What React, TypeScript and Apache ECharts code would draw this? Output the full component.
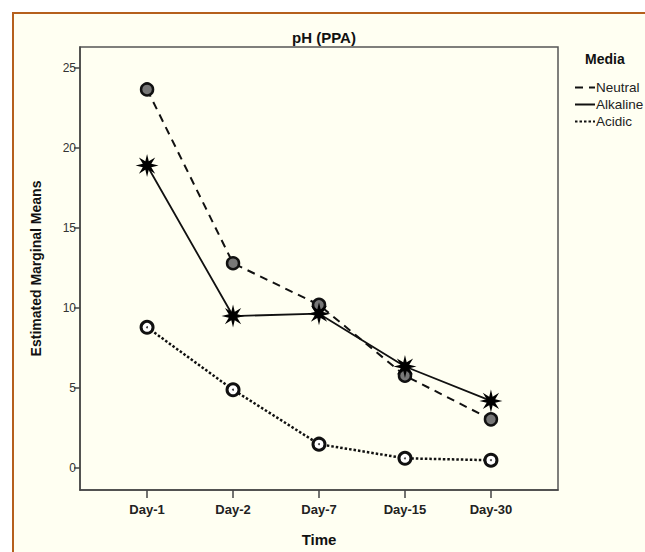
import React, { useEffect, useRef } from "react";
import * as echarts from "echarts";

const categories = ["Day-1", "Day-2", "Day-7", "Day-15", "Day-30"];
const neutral = [23.65, 12.8, 10.2, 5.78, 3.05];
const alkaline = [18.9, 9.5, 9.65, 6.35, 4.2];
const acidic = [8.8, 4.9, 1.5, 0.62, 0.5];
const yTicks = [0, 5, 10, 15, 20, 25];

const STAR =
  "path://M10 0 L11.5 6.3 L17.07 2.93 L13.7 8.5 L20 10 L13.7 11.5 L17.07 17.07 L11.5 13.7 L10 20 L8.5 13.7 L2.93 17.07 L6.3 11.5 L0 10 L6.3 8.5 L2.93 2.93 L8.5 6.3 Z";

const toPts = (arr: number[]) => arr.map((v, i) => [i, v]);
const FONT = "Liberation Sans, Arial, sans-serif";

export default function App() {
  const ref = useRef<HTMLDivElement>(null);
  useEffect(() => {
    if (!ref.current) return;
    const chart = echarts.init(ref.current, undefined, { renderer: "svg" });
    chart.setOption({
      animation: false,
      backgroundColor: "#ffffff",
      textStyle: { fontFamily: FONT },
      title: {
        text: "pH (PPA)",
        left: 319,
        textAlign: "center",
        top: 25,
        textStyle: { fontSize: 15, fontWeight: "bold", color: "#111" },
      },
      graphic: [
        {
          type: "rect",
          z: -10,
          silent: true,
          shape: { x: 13, y: 13, width: 700, height: 600 },
          style: { fill: "#fffff2", stroke: "#b5601c", lineWidth: 2 },
        },
        {
          type: "text",
          left: 585,
          top: 52,
          style: {
            text: "Media",
            fontSize: 14,
            fontWeight: "bold",
            fill: "#111",
            fontFamily: FONT,
          },
        },
      ],
      legend: {
        left: 569,
        top: 75,
        orient: "vertical",
        itemWidth: 20,
        itemHeight: 10,
        itemGap: 2,
        data: ["Neutral", "Alkaline", "Acidic"],
        itemStyle: { opacity: 0 },
        textStyle: {
          fontSize: 13.5,
          color: "#222",
          padding: [0, 0, 0, -4],
          lineHeight: 15,
        },
      },
      grid: {
        left: 80,
        right: 87,
        top: 47,
        bottom: 58,
        show: true,
        borderColor: "#555",
        borderWidth: 1.5,
        backgroundColor: "transparent",
      },
      xAxis: {
        type: "value",
        min: -0.78,
        max: 4.78,
        interval: 1,
        name: "Time",
        nameLocation: "middle",
        nameGap: 42,
        nameTextStyle: { fontSize: 15, fontWeight: "bold", color: "#111" },
        splitLine: { show: false },
        axisLine: { onZero: false, lineStyle: { color: "#444", width: 1.5 } },
        axisTick: {
          show: true,
          length: 8,
          lineStyle: { color: "#444", width: 1.5 },
          customValues: [0, 1, 2, 3, 4],
        },
        axisLabel: {
          customValues: [0, 1, 2, 3, 4],
          formatter: (v: number) => categories[Math.round(v)] ?? "",
          fontSize: 13,
          fontWeight: "bold",
          color: "#222",
          margin: 13,
        },
      },
      yAxis: {
        type: "value",
        min: -1.36,
        max: 26.3,
        name: "Estimated Marginal Means",
        nameLocation: "middle",
        nameGap: 37,
        nameTextStyle: { fontSize: 14, fontWeight: "bold", color: "#111" },
        splitLine: { show: false },
        axisLine: {
          show: true,
          onZero: false,
          lineStyle: { color: "#444", width: 1.5 },
        },
        axisTick: {
          show: true,
          length: 6,
          lineStyle: { color: "#444", width: 1.5 },
          customValues: yTicks,
        },
        axisLabel: {
          customValues: yTicks,
          fontSize: 12,
          color: "#333",
          margin: 4,
        },
      },
      series: [
        {
          name: "Neutral",
          type: "line",
          data: toPts(neutral),
          symbol: "circle",
          symbolSize: 12,
          itemStyle: { color: "#777", borderColor: "#111", borderWidth: 2.5 },
          lineStyle: { color: "#111", width: 2, type: [8, 6] },
          z: 3,
        },
        {
          name: "Alkaline",
          type: "line",
          data: toPts(alkaline),
          symbol: STAR,
          symbolSize: 23,
          itemStyle: { color: "#000" },
          lineStyle: { color: "#111", width: 1.8 },
          z: 4,
        },
        {
          name: "Acidic",
          type: "line",
          data: toPts(acidic),
          symbol: "circle",
          symbolSize: 12,
          itemStyle: { color: "#fff", borderColor: "#111", borderWidth: 3 },
          lineStyle: { color: "#111", width: 2.5, type: [2.5, 2] },
          z: 3,
        },
        {
          name: "AcidicDot",
          type: "scatter",
          data: toPts(acidic),
          symbol: "circle",
          symbolSize: 2,
          itemStyle: { color: "#111" },
          silent: true,
          z: 5,
        },
      ],
    });
    return () => chart.dispose();
  }, []);
  return (
    <div
      ref={ref}
      style={{ position: "absolute", left: 0, top: 0, width: 645, height: 552 }}
    />
  );
}
